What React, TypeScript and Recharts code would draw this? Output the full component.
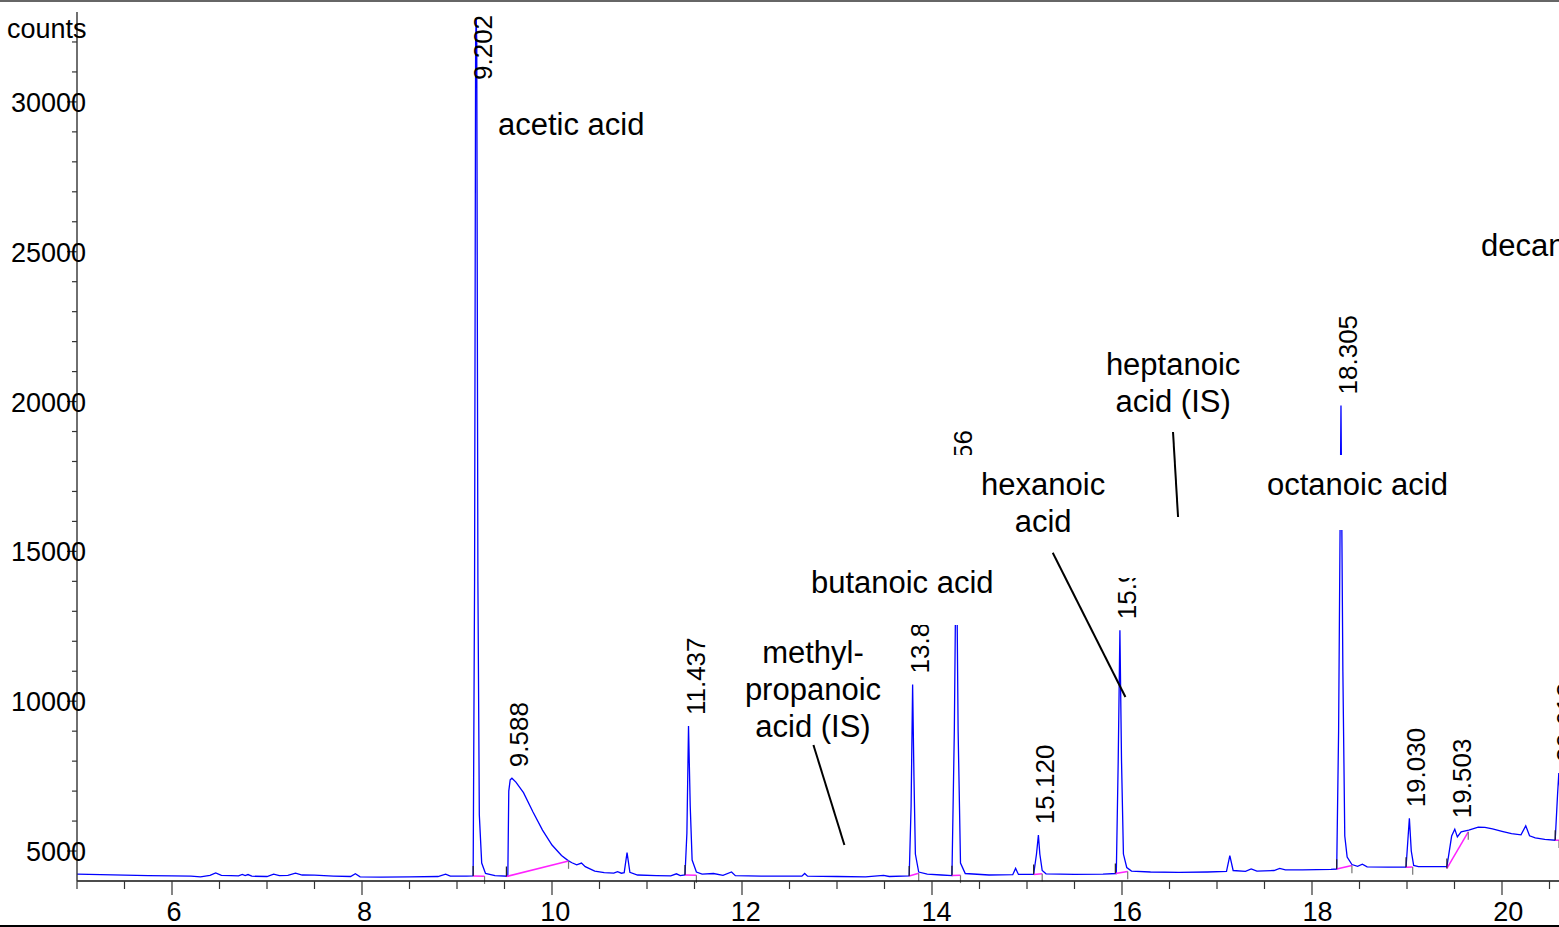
import React from 'react';
import { LineChart, Line, XAxis, YAxis, ReferenceArea, ReferenceLine, ReferenceDot } from 'recharts';

const FONT = '"Liberation Sans", Arial, Helvetica, sans-serif';

// chromatogram trace: retention time (min) and detector counts
const times = [
  5.0, 5.25, 5.5, 5.75, 6.0, 6.2, 6.3, 6.4, 6.46, 6.52, 6.62, 6.7, 6.74, 6.77, 6.8, 6.84,
  7.0, 7.07, 7.13, 7.22, 7.3, 7.37, 7.5, 7.7, 7.88, 7.93, 7.98, 8.2, 8.5, 8.8, 8.88, 8.93,
  9.1, 9.17, 9.185, 9.196, 9.202, 9.208, 9.22, 9.235, 9.26, 9.3, 9.4, 9.535, 9.545, 9.56,
  9.578, 9.62, 9.7, 9.8, 9.9, 10.0, 10.1, 10.17, 10.21, 10.26, 10.31, 10.35, 10.45, 10.55,
  10.65, 10.69, 10.73, 10.76, 10.79, 10.82, 10.9, 11.1, 11.25, 11.31, 11.35, 11.4, 11.42,
  11.437, 11.455, 11.475, 11.52, 11.58, 11.7, 11.8, 11.89, 11.93, 12.2, 12.63, 12.66, 12.69,
  13.0, 13.3, 13.49, 13.55, 13.76, 13.78, 13.796, 13.81, 13.825, 13.86, 13.95, 14.1, 14.21,
  14.235, 14.256, 14.275, 14.3, 14.35, 14.6, 14.85, 14.88, 14.91, 15.07, 15.1, 15.12,
  15.135, 15.16, 15.2, 15.5, 15.8, 15.94, 15.96, 15.978, 15.995, 16.015, 16.05, 16.1, 16.3,
  16.6, 16.9, 17.1, 17.135, 17.17, 17.3, 17.36, 17.42, 17.6, 17.66, 17.72, 17.9, 18.2,
  18.26, 18.28, 18.305, 18.325, 18.345, 18.37, 18.42, 18.48, 18.53, 18.58, 18.8, 18.99,
  19.01, 19.025, 19.045, 19.07, 19.12, 19.42, 19.47, 19.503, 19.53, 19.57, 19.65, 19.75,
  19.82, 19.9, 20.0, 20.1, 20.2, 20.25, 20.29, 20.35, 20.45, 20.56, 20.585, 20.598, 20.62,
];
const counts = [
  4230, 4215, 4195, 4180, 4170, 4160, 4140, 4190, 4270, 4190, 4180, 4170, 4220, 4180, 4215, 4160,
  4150, 4230, 4180, 4190, 4260, 4200, 4195, 4165, 4150, 4240, 4140, 4130, 4135, 4150, 4230, 4160,
  4160, 4170, 14000, 32000, 32800, 32000, 14000, 6200, 4600, 4250, 4180, 4160, 7000, 7380,
  7430, 7300, 6950, 6300, 5700, 5200, 4850, 4680, 4610, 4540, 4600, 4480, 4330, 4280,
  4260, 4310, 4260, 4280, 4950, 4290, 4200, 4180, 4170, 4240, 4180, 4200, 5600,
  9170, 6500, 4700, 4300, 4230, 4250, 4190, 4300, 4180, 4160, 4160, 4250, 4160,
  4150, 4140, 4190, 4150, 4170, 6500, 10560, 7500, 4900, 4300, 4230, 4200, 4180,
  9000, 16030, 9000, 4600, 4250, 4200, 4210, 4420, 4220, 4220, 4900, 5530,
  4900, 4350, 4240, 4220, 4230, 4250, 8000, 12370, 8000, 4900, 4450, 4330, 4300,
  4290, 4300, 4320, 4850, 4350, 4320, 4400, 4330, 4350, 4420, 4370, 4370, 4390,
  4400, 9000, 19870, 11000, 5500, 4800, 4550, 4490, 4560, 4470, 4460, 4460,
  5400, 6090, 5000, 4520, 4480, 4480, 5500, 5730, 5470, 5640, 5700, 5800,
  5790, 5740, 5660, 5580, 5540, 5840, 5510, 5440, 5390, 5360, 6900, 7600, 6500,
];

// peak apex labels
const peakTimes = [9.202, 9.578, 11.437, 13.796, 14.256, 15.12, 15.978, 18.305, 19.025, 19.503, 20.598];
const peakHeights = [32800, 7430, 9170, 10560, 16030, 5530, 12370, 19870, 6090, 5730, 7600];
const peakLabels = ['9.202', '9.588', '11.437', '13.801', '14.256', '15.120', '15.966', '18.305', '19.030', '19.503', '20.613'];

// integration baselines (magenta): start time, start counts, end time, end counts
const baseStartT = [9.17, 9.52, 11.40, 13.76, 14.21, 15.07, 15.93, 18.26, 18.99, 19.42, 20.56];
const baseStartC = [4170, 4150, 4200, 4170, 4180, 4220, 4250, 4400, 4460, 4420, 5360];
const baseEndT = [9.29, 10.174, 11.52, 13.86, 14.30, 15.16, 16.06, 18.42, 19.06, 19.645, 20.6];
const baseEndC = [4160, 4667, 4190, 4260, 4190, 4240, 4320, 4520, 4470, 5640, 5360];

// annotation texts (compound names)
const annoLines = [
  ['acetic acid'],
  ['methyl-', 'propanoic', 'acid (IS)'],
  ['butanoic acid'],
  ['hexanoic', 'acid'],
  ['heptanoic', 'acid (IS)'],
  ['octanoic acid'],
  ['decanoic acid'],
];
const annoT = [10.202, 12.747, 13.687, 15.17, 16.538, 18.479, 19.78];
const annoC = [28895, 11275, 13611, 16881, 20886, 16881, 24857];
const annoAnchor = ['middle', 'middle', 'middle', 'middle', 'middle', 'middle', 'start'];

// annotation masks (t1, t2, c1, c2)
const maskT1 = [13.61, 14.14, 17.43];
const maskT2 = [14.77, 16.19, 19.53];
const maskC1 = [12543, 14111, 15713];
const maskC2 = [14879, 18216, 18216];

// pointer lines
const ptrT1 = [12.752, 15.271, 16.537];
const ptrC1 = [8538, 14956, 18983];
const ptrT2 = [13.078, 16.036, 16.59];
const ptrC2 = [5201, 10140, 16147];

const yTicks = [5000, 6000, 7000, 8000, 9000, 10000, 11000, 12000, 13000, 14000, 15000, 16000, 17000, 18000, 19000, 20000, 21000, 22000, 23000, 24000, 25000, 26000, 27000, 28000, 29000, 30000, 31000, 32000];
const xTicks = [5, 5.5, 6, 6.5, 7, 7.5, 8, 8.5, 9, 9.5, 10, 10.5, 11, 11.5, 12, 12.5, 13, 13.5, 14, 14.5, 15, 15.5, 16, 16.5, 17, 17.5, 18, 18.5, 19, 19.5, 20, 20.5];

const data = times.map((t, i) => ({ t, c: counts[i] }));

const YTick = (props: any) => {
  const { x, y, payload } = props;
  const major = payload.value % 5000 === 0;
  return (
    <g>
      <line x1={x - (major ? 10 : 5)} x2={x} y1={y} y2={y} stroke="#333" strokeWidth={1.2} />
      {major && (
        <text x={x + 9} y={y + 10} textAnchor="end" fontSize={27} fontFamily={FONT} fill="#000">
          {payload.value}
        </text>
      )}
    </g>
  );
};

const XTick = (props: any) => {
  const { x, y, payload } = props;
  const v = payload.value;
  const major = Number.isInteger(v) && v % 2 === 0;
  return (
    <g>
      <line x1={x} x2={x} y1={y} y2={y + (major ? 14 : 8)} stroke="#333" strokeWidth={1.2} />
      {major && (
        <text x={x + 2 + (v - 6) * 0.3} y={y + 40} textAnchor="middle" fontSize={27} fontFamily={FONT} fill="#000">
          {v}
        </text>
      )}
    </g>
  );
};

const peakLabelShape = (label: string) => (props: any) => {
  const { cx, cy } = props;
  const bottom = Math.max(cy - 11, 80);
  return (
    <text
      transform={`translate(${cx + 16},${bottom}) rotate(-90)`}
      fontSize={26}
      fontFamily={FONT}
      fill="#000"
      textAnchor="start"
    >
      {label}
    </text>
  );
};

const annoShape = (lines: string[], anchor: string) => (props: any) => {
  const { cx, cy } = props;
  return (
    <g>
      {lines.map((s, i) => (
        <text key={i} x={cx} y={cy + i * 37} fontSize={31} fontFamily={FONT} fill="#000" textAnchor={anchor as any}>
          {s}
        </text>
      ))}
    </g>
  );
};

export default function App() {
  return (
    <div style={{ position: 'absolute', left: 0, top: 0, width: 1559, height: 927, background: '#fff', overflow: 'hidden' }}>
      <LineChart width={1559} height={927} data={data} margin={{ top: 12, right: 0, bottom: 0, left: 0 }}>
        <XAxis
          dataKey="t"
          type="number"
          domain={[5, 20.6]}
          allowDataOverflow
          ticks={xTicks}
          interval={0}
          height={46}
          tickSize={0}
          tickMargin={0}
          tick={<XTick />}
          axisLine={{ stroke: '#111', strokeWidth: 1.6 }}
          tickLine={false}
        />
        <YAxis
          type="number"
          domain={[4000, 33000]}
          allowDataOverflow
          ticks={yTicks}
          interval={0}
          width={77}
          tickSize={0}
          tickMargin={0}
          tick={<YTick />}
          axisLine={{ stroke: '#333', strokeWidth: 1.4 }}
          tickLine={false}
        />
        <Line
          dataKey="c"
          type="linear"
          stroke="#0000ff"
          strokeWidth={1.3}
          dot={false}
          activeDot={false}
          isAnimationActive={false}
        />
        {baseStartT.map((t, i) => (
          <ReferenceLine
            key={'b' + i}
            segment={[{ x: t, y: baseStartC[i] }, { x: baseEndT[i], y: baseEndC[i] }]}
            stroke="#ff22ff"
            strokeWidth={1.5}
            ifOverflow="visible"
            zIndex={420}
          />
        ))}
        {baseStartT.map((t, i) => (
          <ReferenceLine
            key={'ms' + i}
            segment={[{ x: t, y: baseStartC[i] }, { x: t, y: baseStartC[i] + 330 }]}
            stroke="#222"
            strokeWidth={1.2}
            ifOverflow="visible"
            zIndex={420}
          />
        ))}
        {baseEndT.map((t, i) => (
          <ReferenceLine
            key={'me' + i}
            segment={[{ x: t, y: baseEndC[i] }, { x: t, y: baseEndC[i] - 260 }]}
            stroke="#777"
            strokeWidth={1.2}
            ifOverflow="visible"
            zIndex={420}
          />
        ))}
        {peakTimes.map((t, i) => (
          <ReferenceDot
            key={'p' + i}
            x={t}
            y={peakHeights[i]}
            r={0}
            ifOverflow="visible"
            shape={peakLabelShape(peakLabels[i])}
            zIndex={450}
          />
        ))}
        {maskT1.map((t, i) => (
          <ReferenceArea
            key={'m' + i}
            x1={t}
            x2={maskT2[i]}
            y1={maskC1[i]}
            y2={maskC2[i]}
            fill="#ffffff"
            fillOpacity={1}
            stroke="none"
            ifOverflow="visible"
            zIndex={500}
          />
        ))}
        {ptrT1.map((t, i) => (
          <ReferenceLine
            key={'l' + i}
            segment={[{ x: t, y: ptrC1[i] }, { x: ptrT2[i], y: ptrC2[i] }]}
            stroke="#000"
            strokeWidth={2}
            ifOverflow="visible"
            zIndex={600}
          />
        ))}
        {annoT.map((t, i) => (
          <ReferenceDot
            key={'a' + i}
            x={t}
            y={annoC[i]}
            r={0}
            ifOverflow="visible"
            shape={annoShape(annoLines[i], annoAnchor[i])}
            zIndex={650}
          />
        ))}
      </LineChart>
      <svg width={1559} height={927} style={{ position: 'absolute', left: 0, top: 0, pointerEvents: 'none' }}>
        <text x={7} y={38} fontSize={27} fontFamily={FONT} fill="#000">counts</text>
        <line x1={0} x2={1559} y1={1} y2={1} stroke="#666" strokeWidth={2} />
        <line x1={0} x2={1559} y1={926} y2={926} stroke="#000" strokeWidth={2} />
      </svg>
    </div>
  );
}
